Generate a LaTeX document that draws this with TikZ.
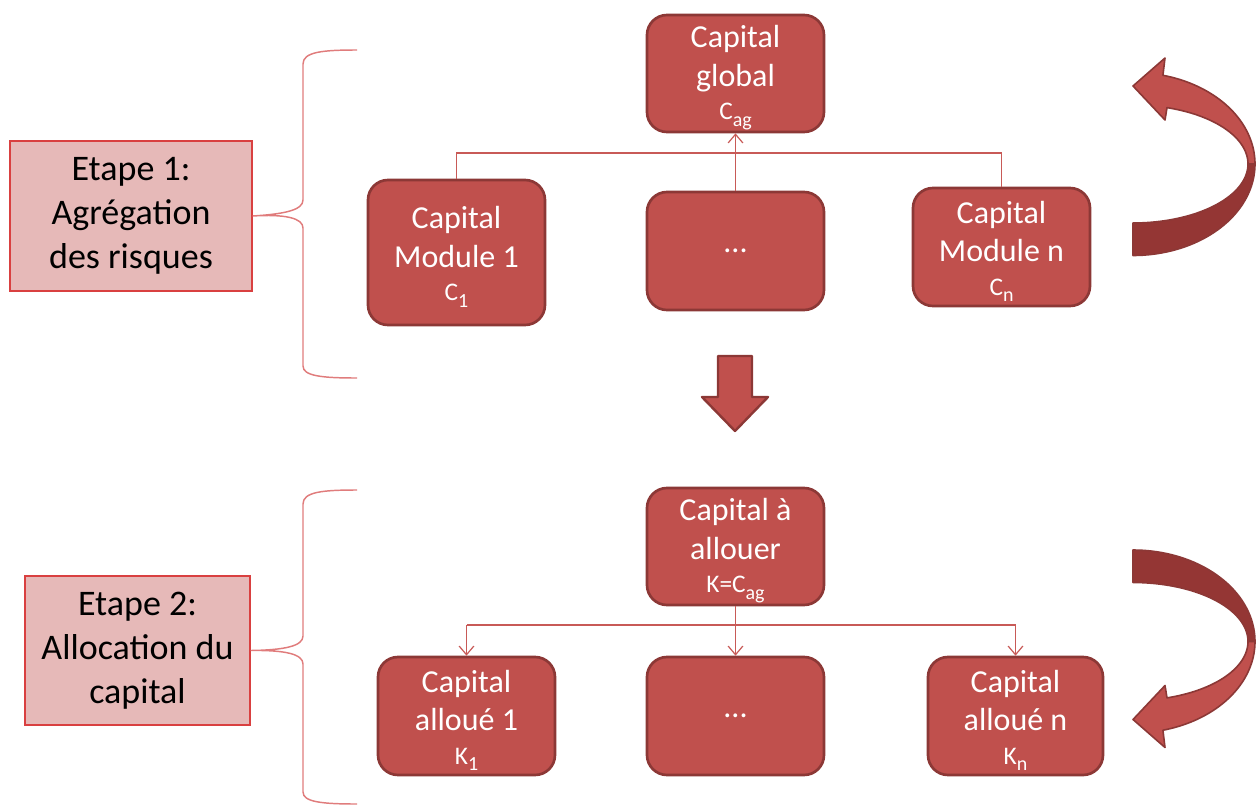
\documentclass[tikz,border=0pt]{standalone}
\usepackage{fontspec}
\setmainfont{Carlito}
\usetikzlibrary{arrows.meta,calc}
\definecolor{boxred}{HTML}{C0504D}
\definecolor{boxedge}{HTML}{8C3836}
\definecolor{darkred}{HTML}{943634}
\definecolor{pinkfill}{HTML}{E6B9B8}
\definecolor{pinkedge}{HTML}{D94040}
\definecolor{linered}{HTML}{C85A57}
\definecolor{bracered}{HTML}{E07C7C}
\newcommand{\smalline}[2]{{\fontsize{19}{29}\selectfont #1\raisebox{-0.25em}{\fontsize{15}{16}\selectfont #2}}}
\newcommand{\topstrut}{\rule{0pt}{23pt}}
\begin{document}
\begin{tikzpicture}[x=0.75pt,y=-0.75pt,
  capbox/.style={rounded corners=15pt, fill=boxred, draw=boxedge, line width=2pt, text=white, align=center, inner sep=0pt, font=\fontsize{24}{29}\selectfont},
  stepbox/.style={fill=pinkfill, draw=pinkedge, line width=0.9pt, align=center, inner sep=0pt, font=\fontsize{27}{33}\selectfont},
  conn/.style={draw=linered, line width=0.9pt},
  tipend/.style={-{Straight Barb[length=6.5pt,width=11pt]}},
  brace/.style={draw=bracered, line width=1.1pt},
  bigarrow/.style={fill=boxred, draw=boxedge, line width=1.8pt, line join=round},
  darkpart/.style={fill=darkred, draw=boxedge, line width=1.2pt, line join=round},
  lightpart/.style={fill=boxred, draw=boxedge, line width=1.2pt, line join=round}]
\useasboundingbox (0,0) rectangle (1257,807);

% step boxes
\node[stepbox, minimum width=181.5pt, minimum height=112.5pt] (e1) at (131,216) {Etape 1:\\Agrégation\\des risques};
\node[stepbox, minimum width=168.75pt, minimum height=111.75pt] (e2) at (137.5,650.5) {Etape 2:\\Allocation du\\capital};

% braces
\draw[brace] (357,50) .. controls (322,50) and (303,52) .. (303,64) -- (303,200)
  .. controls (303,210) and (285,214) .. (e1.east)
  .. controls (285,214) and (303,218) .. (303,228) -- (303,366)
  .. controls (303,376) and (322,378) .. (357,378);
\draw[brace] (357,490) .. controls (322,490) and (303,492) .. (303,504) -- (303,636)
  .. controls (303,646) and (285,650) .. (e2.east)
  .. controls (285,650) and (303,654) .. (303,664) -- (303,792)
  .. controls (303,802) and (322,804) .. (357,804);

% top level
\node[capbox, minimum width=132.75pt, minimum height=87.75pt] (cg) at (735.5,73.5) {\topstrut Capital\\global\\[-4pt]\smalline{C}{ag}};
\node[capbox, minimum width=132.75pt, minimum height=108.75pt] (m1) at (456.5,252.5) {\topstrut Capital\\Module 1\\[-4pt]\smalline{C}{1}};
\node[capbox, minimum width=132.75pt, minimum height=88.5pt] (md) at (735.5,251) {...};
\node[capbox, minimum width=132.75pt, minimum height=88.5pt] (mn) at (1001.5,247) {\topstrut Capital\\Module n\\[-4pt]\smalline{C}{n}};

\coordinate (bus1) at (735.5,153);
\draw[conn] (m1.north) -- (m1.north |- bus1) -- (mn.north |- bus1) -- (mn.north);
\draw[conn,tipend] (md.north) -- (cg.south);

% bottom level
\node[capbox, minimum width=132.75pt, minimum height=87.75pt] (ca) at (735.5,546.5) {\topstrut Capital à\\allouer\\[-4pt]\smalline{K=C}{ag}};
\node[capbox, minimum width=132.75pt, minimum height=88.5pt] (a1) at (466.5,716) {\topstrut Capital\\alloué 1\\[-4pt]\smalline{K}{1}};
\node[capbox, minimum width=132.75pt, minimum height=88.5pt] (ad) at (735.5,716) {...};
\node[capbox, minimum width=131.25pt, minimum height=88.5pt] (an) at (1015.5,716) {\topstrut Capital\\alloué n\\[-4pt]\smalline{K}{n}};

\coordinate (bus2) at (735.5,625);
\draw[conn,tipend] (ca.south) -- (ad.north);
\draw[conn] (a1.north |- bus2) -- (an.north |- bus2);
\draw[conn,tipend] (a1.north |- bus2) -- (a1.north);
\draw[conn,tipend] (an.north |- bus2) -- (an.north);

% block down arrow
\draw[bigarrow] (718,356) -- (752,356) -- (752,397) -- (768,397) -- (735,431) -- (702,397) -- (718,397) -- cycle;

% curved arrows
\begin{scope}[shift={(1133,164)}]
  \path[darkpart] plot[domain=0:90,samples=40] ({122*cos(\x)},{91.5*sin(\x)})
    -- plot[domain=90:0,samples=40] ({115*cos(\x)},{59*sin(\x)}) -- cycle;
  \path[lightpart] plot[domain=-75.8:0,samples=40] ({122*cos(\x)},{91.5*sin(\x)})
    -- plot[domain=0:-72.8,samples=40] ({115*cos(\x)},{59*sin(\x)})
    -- (32,-44) -- (0,-78) -- (32,-106) -- cycle;
\end{scope}
\begin{scope}[shift={(1133,641.5)},yscale=-1]
  \path[darkpart] plot[domain=0:90,samples=40] ({122*cos(\x)},{91.5*sin(\x)})
    -- plot[domain=90:0,samples=40] ({115*cos(\x)},{59*sin(\x)}) -- cycle;
  \path[lightpart] plot[domain=-75.8:0,samples=40] ({122*cos(\x)},{91.5*sin(\x)})
    -- plot[domain=0:-72.8,samples=40] ({115*cos(\x)},{59*sin(\x)})
    -- (32,-44) -- (0,-78) -- (32,-106) -- cycle;
\end{scope}
\end{tikzpicture}
\end{document}
